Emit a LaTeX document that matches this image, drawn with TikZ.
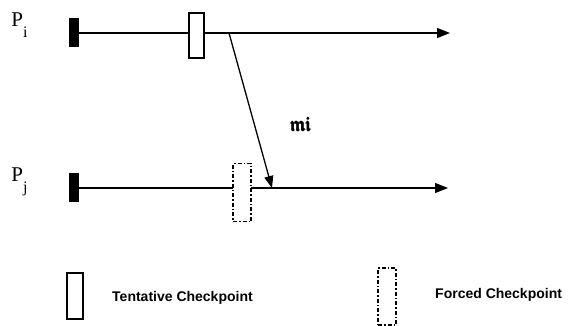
\documentclass[tikz,border=0pt]{standalone}
\usepackage{amsmath}
\usepackage{amssymb}
\usepackage{fontspec}
\setmainfont{Liberation Serif}
\newfontfamily\legendfont{Liberation Sans}
\usetikzlibrary{arrows.meta}
\tikzset{
  proc/.style={line width=1.3pt, -{Triangle[length=13pt,width=10pt]}},
  msgarrow/.style={line width=1.3pt, -{Triangle[length=12pt,width=9pt]}},
  startbar/.style={draw=none, fill=black, minimum width=10pt, minimum height=29pt, inner sep=0pt},
  tentbox/.style={draw, fill=white, line width=1.1pt, minimum width=15pt, minimum height=45pt, inner sep=0pt},
  forcedbox/.style={draw, fill=white, line width=1.1pt, dash pattern=on 4pt off 2pt on 1.5pt off 2pt, minimum width=18pt, minimum height=58pt, inner sep=0pt},
  plabel/.style={font=\fontsize{21}{21}\selectfont, inner sep=0pt},
  legendtext/.style={font=\legendfont\bfseries\fontsize{14}{14}\selectfont, inner sep=0pt, anchor=west}
}
\begin{document}
\begin{tikzpicture}[x=1pt,y=-1pt]
\useasboundingbox (0,0) rectangle (579,325);
% process lines
\coordinate (pis) at (74,33);
\coordinate (pie) at (450,33);
\coordinate (pjs) at (74,188);
\coordinate (pje) at (448,188);
\draw[proc] (pis) -- (pie);
\draw[proc] (pjs) -- (pje);
% start bars
\node[startbar] (bari) at (74,32.5) {};
\node[startbar] (barj) at (74,187.5) {};
% checkpoints
\node[tentbox] (ti) at (196.5,35.5) {};
\node[forcedbox] (fj) at (242,192.5) {};
% message
\coordinate (msrc) at (229,33);
\coordinate (mdst) at (272,188);
\draw[msgarrow] (msrc) -- (mdst);
% labels
\node[plabel] (lpi) at (19.5,25) {P\raisebox{-0.5em}{\fontsize{16}{16}\selectfont i}};
\node[plabel] (lpj) at (19.5,182) {P\raisebox{-0.5em}{\fontsize{16}{16}\selectfont j}};
\node[inner sep=0pt, font=\fontsize{20}{20}\selectfont] (lm) at (301,124) {$\pmb{\mathfrak{mi}}$};
% legend
\node[tentbox, minimum width=16pt, minimum height=46pt] (legt) at (75,296) {};
\node[legendtext] (legtt) at (112,298) {Tentative Checkpoint};
\node[forcedbox, minimum height=57pt] (legf) at (387,296.5) {};
\node[legendtext] (legft) at (435,295) {Forced Checkpoint};
\end{tikzpicture}
\end{document}
